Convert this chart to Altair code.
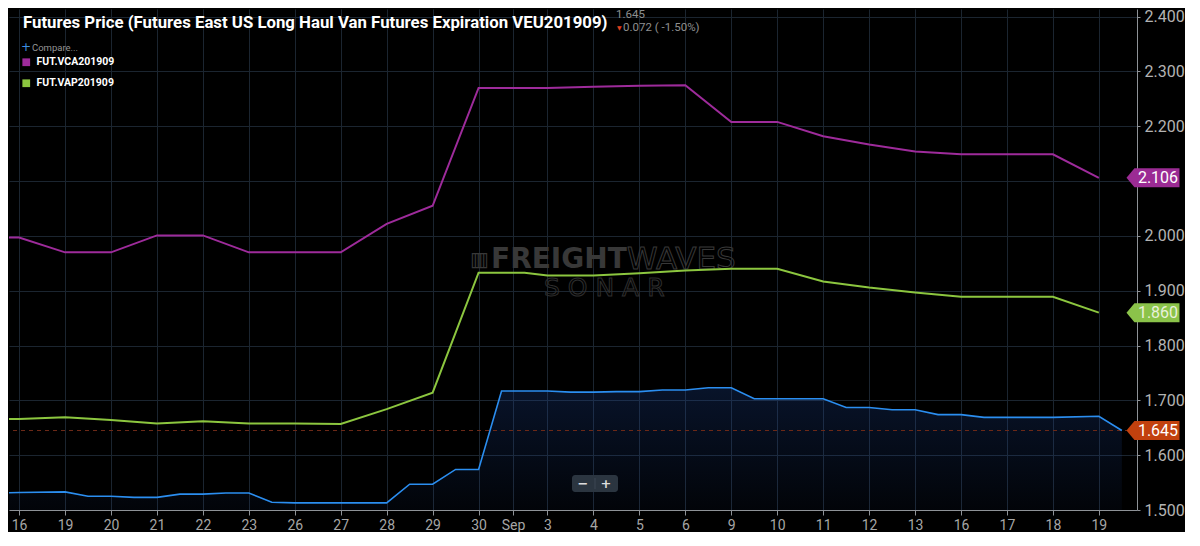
import json
import altair as alt
import pandas as pd

# ---------------- data ----------------
# x axis: trading-day slots as laid out on the chart
tick_pos = [0, 1, 2, 3, 4, 5, 6, 7, 8, 9, 10, 10.75, 11.5, 12.5, 13.5, 14.5,
            15.5, 16.5, 17.5, 18.5, 19.5, 20.5, 21.5, 22.5, 23.5]
tick_lab = ["16", "19", "20", "21", "22", "23", "26", "27", "28", "29", "30",
            "Sep", "3", "4", "5", "6", "9", "10", "11", "12", "13", "16", "17",
            "18", "19"]
y_ticks = [1.5, 1.6, 1.7, 1.8, 1.9, 2.0, 2.1, 2.2, 2.3, 2.4]

# spread series (FUT.VCA201909 / FUT.VAP201909)
day_pos = [-0.5, 0, 1, 2, 3, 4, 5, 6, 7, 8, 9, 10, 11, 11.5, 12.5, 13.5, 14.5,
           15.5, 16.5, 17.5, 18.5, 19.5, 20.5, 21.5, 22.5, 23.5]
vca = [1.997, 1.997, 1.970, 1.970, 2.001, 2.001, 1.970, 1.970, 1.970, 2.022,
       2.055, 2.270, 2.270, 2.270, 2.272, 2.274, 2.275, 2.208, 2.208, 2.182,
       2.167, 2.154, 2.149, 2.149, 2.149, 2.106]
vap = [1.666, 1.666, 1.669, 1.664, 1.658, 1.662, 1.658, 1.658, 1.657, 1.684,
       1.714, 1.933, 1.933, 1.928, 1.928, 1.932, 1.937, 1.940, 1.940, 1.917,
       1.906, 1.897, 1.889, 1.889, 1.889, 1.860]

# main series VEU201909
veu_pos = [-0.5, 0, 1, 1.5, 2, 2.5, 3, 3.5, 4, 4.5, 5, 5.5, 6, 7, 8, 8.5, 9,
           9.5, 10, 10.5, 11.5, 12, 12.5, 13, 13.5, 14, 14.5, 15, 15.5, 16,
           16.5, 17.5, 18, 18.5, 19, 19.5, 20, 20.5, 21, 22.5, 23.5, 24]
veu = [1.531, 1.532, 1.533, 1.525, 1.525, 1.523, 1.523, 1.529, 1.529, 1.531,
       1.531, 1.514, 1.513, 1.513, 1.513, 1.547, 1.547, 1.574, 1.574, 1.717,
       1.717, 1.715, 1.715, 1.716, 1.716, 1.719, 1.719, 1.723, 1.723, 1.703,
       1.703, 1.703, 1.687, 1.687, 1.683, 1.683, 1.674, 1.674, 1.669, 1.669,
       1.671, 1.645]

series_names = ["FUT.VCA201909", "FUT.VAP201909"]
series_colors = ["#9e2b9b", "#8cc63f"]
title_text = "Futures Price (Futures East US Long Haul Van Futures Expiration VEU201909)"
change_text = "0.072 ( -1.50%)"

# ---------------- chart ----------------
W, H = 1128, 501
GRID = "#1b2530"
x_scale = alt.Scale(domain=[-0.22, 24.33], nice=False, zero=False)
y_scale = alt.Scale(domain=[1.5, 2.414], nice=False, zero=False)

last_vals = [vca[-1], vap[-1], veu[-1]]
x_label_expr = f"{json.dumps(tick_lab)}[indexof({json.dumps(tick_pos)}, datum.value)]"
# y labels hidden where a value tag sits on top of them
hide_cond = " || ".join(f"abs(datum.value - {v}) < 0.02" for v in last_vals)
y_label_expr = f"({hide_cond}) ? '' : format(datum.value, '.3f')"

x_axis = alt.Axis(values=tick_pos, labelExpr=x_label_expr, grid=True, gridColor=GRID,
                  gridWidth=1, domainColor="#8e9297", tickColor="#8e9297",
                  tickSize=5, labelColor="#a6a6a6", labelFont="Roboto",
                  labelFontSize=14, labelPadding=3, title=None,
                  labelFlush=False, labelOverlap=False)
y_axis = alt.Axis(orient="right", values=y_ticks, labelExpr=y_label_expr, grid=True,
                  gridColor=GRID, gridWidth=1, domainColor="#8e9297",
                  tickColor="#8e9297", tickSize=3, labelColor="#b3b3b3",
                  labelFont="Roboto", labelFontSize=16, labelPadding=4,
                  title=None, labelOverlap=False, labelFlush=False)


def X():
    return alt.X("x:Q", scale=x_scale, axis=x_axis)


def Y():
    return alt.Y("y:Q", scale=y_scale, axis=y_axis)


df_veu = pd.DataFrame({"x": veu_pos, "y": veu})
df_sp = pd.DataFrame({
    "x": day_pos * 2,
    "y": vca + vap,
    "s": [series_names[0]] * len(vca) + [series_names[1]] * len(vap),
})

grad = alt.Gradient(gradient="linear",
                    stops=[alt.GradientStop(color="rgba(30,70,150,0.28)", offset=0),
                           alt.GradientStop(color="rgba(30,70,150,0.06)", offset=1)],
                    x1=0, x2=0, y1=0, y2=1)

area = alt.Chart(df_veu).mark_area(color=grad, clip=True).encode(
    x=X(), y=Y(), y2=alt.datum(1.5),
)

veu_line = alt.Chart(df_veu).mark_line(color="#2b8ef0", strokeWidth=1.6, clip=True).encode(
    x=X(), y=Y(),
)

last_rule = alt.Chart(pd.DataFrame({"y": [veu[-1]]})).mark_rule(
    color="#6e2a18", strokeDash=[4, 4], strokeWidth=1).encode(y=Y())

spreads = alt.Chart(df_sp).mark_line(strokeWidth=2, clip=True).encode(
    x=X(), y=Y(),
    color=alt.Color("s:N", scale=alt.Scale(domain=series_names, range=series_colors),
                    legend=alt.Legend(orient="none", legendX=12, legendY=48, title=None,
                                      symbolType="square", symbolSize=14,
                                      symbolStrokeWidth=4, labelColor="#ffffff",
                                      labelFont="Roboto",
                                      labelFontWeight="bold", labelFontSize=10.5,
                                      labelOffset=5, rowPadding=0, padding=0)),
)

# value tags on the right
tag_path = "M -1 0 L -0.7 -0.36 L 1 -0.36 L 1 0.36 L -0.7 0.36 Z"
df_tag = pd.DataFrame({
    "y": last_vals,
    "fill": ["#9b2b94", "#8bc34a", "#c2410e"],
    "tc": ["#ffffff", "#e9f1dc", "#ffffff"],
    "label": [f"{v:.3f}" for v in last_vals],
})
tags = alt.Chart(df_tag).mark_point(shape=tag_path, filled=True, size=2809,
                                    opacity=1, strokeWidth=0).encode(
    x=alt.value(1144), y=Y(),
    fill=alt.Fill("fill:N", scale=None),
)
tag_text = alt.Chart(df_tag).mark_text(font="Roboto", fontSize=16, align="center",
                                       baseline="middle").encode(
    x=alt.value(1149), y=Y(),
    text="label:N",
    fill=alt.Fill("tc:N", scale=None),
)


def txt(t, x, y, **kw):
    return alt.Chart(alt.Data(values=[{"t": t}])).mark_text(**kw).encode(
        x=alt.value(x), y=alt.value(y), text="t:N")


title = txt(title_text, 14, 19, font="Roboto", fontWeight="bold",
            fontSize=16.8, color="#ffffff", align="left", baseline="alphabetic")
last_val = txt(f"{veu[-1]:.3f}", 607, 6, font="Roboto", fontSize=11.5,
               color="#8f8f8f", align="left", baseline="middle")
down_mark = txt("▼", 608, 19, font="DejaVu Sans", fontSize=6, color="#e0401e",
                align="left", baseline="middle")
change = txt(change_text, 614, 19, font="Roboto", fontSize=11.5, color="#8f8f8f",
             align="left", baseline="middle")
plus = txt("+", 12, 38, font="DejaVu Sans", fontSize=12, color="#3d8fe3",
           align="left", baseline="middle")
compare = txt("Compare...", 23, 38.5, font="Roboto", fontSize=9.5,
              color="#959595", align="left", baseline="middle")

wm_col = "#383838"
wm1 = txt("FREIGHT", 482, 251, font="DejaVu Sans", fontWeight="bold", fontSize=28,
          color=wm_col, align="left", baseline="middle")
wm2 = alt.Chart(alt.Data(values=[{"t": "WAVES"}])).mark_text(
    font="DejaVu Sans", fontSize=31, fillOpacity=0, stroke=wm_col, strokeWidth=1,
    align="left", baseline="middle").encode(x=alt.value(618), y=alt.value(251), text="t:N")
wm3 = alt.Chart(alt.Data(values=[{"t": "S O N A R"}])).mark_text(
    font="DejaVu Sans", fontSize=25, fillOpacity=0, stroke="#2e2e2e", strokeWidth=1,
    align="left", baseline="middle").encode(x=alt.value(535), y=alt.value(279), text="t:N")
wm_icon = txt("▥", 461, 251, font="DejaVu Sans", fontSize=20, color=wm_col,
              align="left", baseline="middle")

zoom_box = alt.Chart(alt.Data(values=[{"a": 1}])).mark_rect(
    fill="#2b3540", cornerRadius=3).encode(
    x=alt.value(563), x2=alt.value(609), y=alt.value(466), y2=alt.value(483))
zoom_div = alt.Chart(alt.Data(values=[{"a": 1}])).mark_rule(
    color="#3c4752", strokeWidth=1).encode(
    x=alt.value(586), y=alt.value(469), y2=alt.value(480))
zoom_minus = txt("−", 574, 475, font="DejaVu Sans", fontWeight="bold", fontSize=13,
                 color="#dddddd", align="center", baseline="middle")
zoom_plus = txt("+", 597, 475, font="DejaVu Sans", fontWeight="bold", fontSize=13,
                color="#dddddd", align="center", baseline="middle")

chart = alt.layer(
    area, wm_icon, wm1, wm2, wm3, last_rule, veu_line, spreads, tags, tag_text,
    title, last_val, down_mark, change, plus, compare,
    zoom_box, zoom_div, zoom_minus, zoom_plus,
).properties(
    width=W, height=H, background="#000000", padding=0,
).configure_view(stroke=None)

chart.save("out.html", embed_options={"renderer": "svg", "actions": False})
